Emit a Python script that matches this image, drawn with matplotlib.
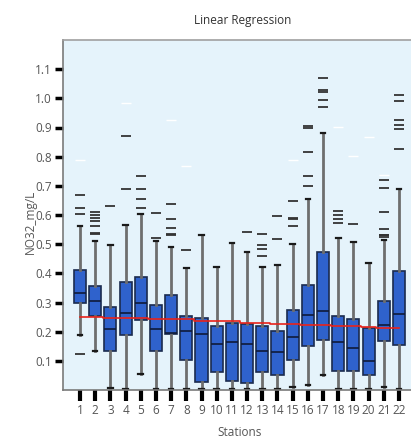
import numpy as np
import matplotlib
matplotlib.use("Agg")
import matplotlib.pyplot as plt

plt.rcParams['font.family'] = ['Open Sans', 'DejaVu Sans']

# per-station box statistics (NO32 in mg/L)
stations = [str(i) for i in range(1, 23)]
q1 =     [0.300, 0.253, 0.134, 0.188, 0.240, 0.134, 0.193, 0.104, 0.026, 0.061, 0.032,
          0.023, 0.061, 0.050, 0.104, 0.152, 0.173, 0.066, 0.066, 0.051, 0.168, 0.153]
median = [0.334, 0.306, 0.208, 0.263, 0.300, 0.208, 0.195, 0.201, 0.193, 0.159, 0.165,
          0.158, 0.133, 0.130, 0.183, 0.257, 0.272, 0.164, 0.143, 0.099, 0.222, 0.260]
q3 =     [0.413, 0.355, 0.285, 0.369, 0.389, 0.290, 0.326, 0.253, 0.247, 0.218, 0.230,
          0.226, 0.218, 0.202, 0.275, 0.359, 0.473, 0.253, 0.242, 0.212, 0.306, 0.408]
wlo =    [0.188, 0.134, 0.006, 0.005, 0.055, 0.005, 0.005, 0.005, 0.002, 0.002, 0.002,
          0.002, 0.005, 0.002, 0.010, 0.016, 0.050, 0.005, 0.005, 0.005, 0.011, 0.005]
whi =    [0.562, 0.512, 0.497, 0.565, 0.605, 0.512, 0.491, 0.420, 0.532, 0.423, 0.503,
          0.473, 0.421, 0.429, 0.502, 0.655, 0.880, 0.522, 0.507, 0.437, 0.513, 0.690]
outliers = [
    [0.123, 0.604, 0.625, 0.669],
    [0.534, 0.538, 0.563, 0.580, 0.591, 0.601, 0.612],
    [0.631],
    [0.690, 0.870],
    [0.625, 0.656, 0.690, 0.735],
    [0.522, 0.608],
    [0.532, 0.536, 0.554, 0.587, 0.636],
    [0.479],
    [],
    [],
    [],
    [0.543],
    [0.458, 0.482, 0.497, 0.536],
    [0.517, 0.597],
    [0.563, 0.588, 0.591, 0.647],
    [0.700, 0.735, 0.816, 0.900, 0.904],
    [0.969, 0.993, 1.023, 1.027, 1.068],
    [0.571, 0.586, 0.601, 0.613],
    [0.570],
    [],
    [0.523, 0.530, 0.533, 0.551, 0.611, 0.693, 0.721],
    [0.827, 0.895, 0.908, 0.925, 0.990, 1.013],
]
# extreme values drawn in white
extremes = [[0.788], [], [], [0.983], [], [], [0.925], [0.768], [], [], [],
            [], [], [], [0.789], [], [], [0.901], [0.802], [0.867], [0.737], []]

# fitted regression value at each station
fit = [0.251, 0.251, 0.246, 0.246, 0.246, 0.242, 0.242, 0.242, 0.235, 0.235, 0.235,
       0.231, 0.231, 0.226, 0.226, 0.222, 0.222, 0.218, 0.218, 0.216, 0.212, 0.212]

pos = np.arange(1, len(stations) + 1)

fig = plt.figure(figsize=(4.11, 4.38), dpi=100)
ax = fig.add_axes([63 / 411, 1 - 390 / 438, 353 / 411, 350 / 438])
ax.set_facecolor('#E5F3FB')

stats = []
for i in range(len(stations)):
    stats.append(dict(med=median[i], q1=q1[i], q3=q3[i], whislo=wlo[i],
                      whishi=whi[i], fliers=outliers[i]))

ax.bxp(stats, positions=pos, widths=0.8, patch_artist=True,
       boxprops=dict(facecolor='#2F62CC', edgecolor='#1B2B4F', linewidth=1.2),
       medianprops=dict(color='#0F1B3A', linewidth=1.2),
       whiskerprops=dict(color='#6E6E6E', linewidth=2.0),
       capprops=dict(color='#1A1A1A', linewidth=1.6),
       capwidths=0.3,
       flierprops=dict(marker='_', markersize=7, markeredgewidth=1.3,
                       markeredgecolor='#333333'),
       zorder=2)

for p, vals in zip(pos, extremes):
    if vals:
        ax.plot([p] * len(vals), vals, linestyle='none', marker='_',
                markersize=7, markeredgewidth=1.0, markeredgecolor='white', zorder=2)

ax.plot(pos, fit, color='#E8231B', linewidth=1.2, drawstyle='steps-mid', zorder=3)

ax.set_xlim(-0.12, 23.12)
ax.set_ylim(0.0, 1.2)
ax.set_xticks(pos)
ax.set_xticklabels(stations)
yt = [0.1, 0.2, 0.3, 0.4, 0.5, 0.6, 0.7, 0.8, 0.9, 1.0, 1.1]
ax.set_yticks(yt)
ax.set_yticklabels(['%.1f' % v for v in yt])

ax.tick_params(axis='x', length=8, width=3, color='black', labelsize=8.5,
               labelcolor='#555555', pad=2)
ax.tick_params(axis='y', length=6, width=2.5, color='black', labelsize=8.5,
               labelcolor='#555555', pad=2)
for s in ax.spines.values():
    s.set_color('#7A7A7A')
    s.set_linewidth(1.2)
ax.spines['top'].set_color('#A0A0A0')

fig.text(243 / 411, 1 - 20.5 / 438, 'Linear Regression', ha='center', va='center',
         fontsize=8.5, color='#333333')
fig.text(240 / 411, 1 - 432 / 438, 'Stations', ha='center', va='center',
         fontsize=8.5, color='#555555')
fig.text(30 / 411, 1 - 222 / 438, 'NO32_mg/L', ha='center', va='center',
         rotation=90, fontsize=8.5, color='#555555')

fig.savefig('out.png', dpi=100)
